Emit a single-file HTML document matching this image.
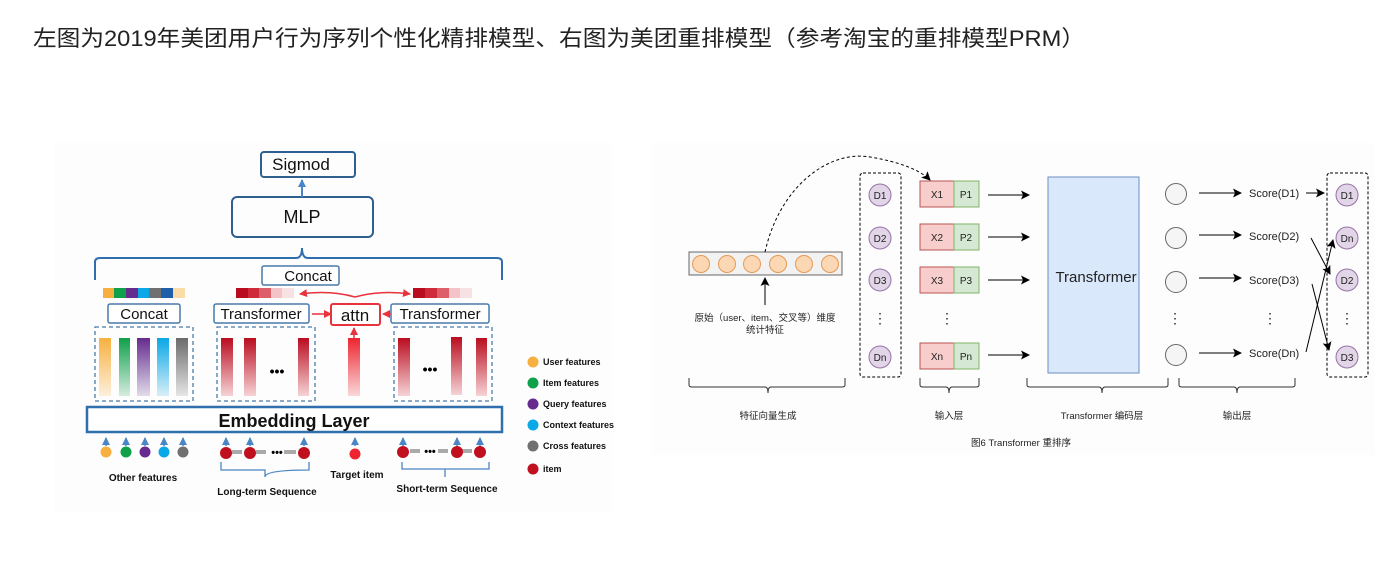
<!DOCTYPE html>
<html><head><meta charset="utf-8"><style>
body{margin:0;background:#fff;}
svg{display:block;font-family:"Liberation Sans","Noto Sans CJK SC",sans-serif;}
</style></head><body>
<svg width="1396" height="580" viewBox="0 0 1396 580" xmlns="http://www.w3.org/2000/svg">
<defs>
<marker id="ab" markerWidth="8" markerHeight="8" refX="7" refY="4" orient="auto" markerUnits="userSpaceOnUse"><path d="M0,0 L8,4 L0,8 z" fill="#4a86c5"/></marker>
<marker id="ar" markerWidth="8" markerHeight="8" refX="7" refY="4" orient="auto" markerUnits="userSpaceOnUse"><path d="M0,0 L8,4 L0,8 z" fill="#e8323c"/></marker>
<marker id="ak" markerWidth="9" markerHeight="9" refX="8" refY="4.5" orient="auto" markerUnits="userSpaceOnUse"><path d="M0,0 L9,4.5 L0,9 L2,4.5 z" fill="#000"/></marker>
<linearGradient id="gy" x1="0" y1="0" x2="0" y2="1"><stop offset="0" stop-color="#f7b040"/><stop offset="1" stop-color="#fdf0dc"/></linearGradient>
<linearGradient id="gg" x1="0" y1="0" x2="0" y2="1"><stop offset="0" stop-color="#0fa04a"/><stop offset="1" stop-color="#d5ece0"/></linearGradient>
<linearGradient id="gp" x1="0" y1="0" x2="0" y2="1"><stop offset="0" stop-color="#652b8e"/><stop offset="1" stop-color="#e2dcea"/></linearGradient>
<linearGradient id="gc" x1="0" y1="0" x2="0" y2="1"><stop offset="0" stop-color="#0aa8e6"/><stop offset="1" stop-color="#d8eef8"/></linearGradient>
<linearGradient id="gk" x1="0" y1="0" x2="0" y2="1"><stop offset="0" stop-color="#6a6a6a"/><stop offset="1" stop-color="#e6e6e6"/></linearGradient>
<linearGradient id="gr" x1="0" y1="0" x2="0" y2="1"><stop offset="0" stop-color="#b90d1f"/><stop offset="1" stop-color="#f6d3d6"/></linearGradient>
<linearGradient id="gt" x1="0" y1="0" x2="0" y2="1"><stop offset="0" stop-color="#ee2530"/><stop offset="1" stop-color="#f9d8da"/></linearGradient>
</defs>
<text x="33" y="46" font-size="22" fill="#222" textLength="1052" lengthAdjust="spacingAndGlyphs">左图为2019年美团用户行为序列个性化精排模型、右图为美团重排模型（参考淘宝的重排模型PRM）</text>

<!-- LEFT -->
<rect x="55" y="143" width="557" height="369" fill="#fdfdfd"/>
<g fill="none" stroke="#2f5f8f" stroke-width="2">
<rect x="261" y="152" width="94" height="25" rx="3"/>
<rect x="232" y="197" width="141" height="40" rx="5"/>
</g>
<line x1="302" y1="197" x2="302" y2="180" stroke="#4a86c5" stroke-width="2" marker-end="url(#ab)"/>
<path d="M95,280 L95,262 Q95,258 100,258 L296,258 Q302,258 302,248 Q302,258 308,258 L497,258 Q502,258 502,262 L502,280" fill="none" stroke="#2f6fad" stroke-width="2"/>
<g fill="#fff" stroke="#4a7aaa" stroke-width="1.5">
<rect x="262" y="266" width="77" height="19" rx="2"/>
<rect x="108" y="304" width="72" height="19" rx="2"/>
<rect x="214" y="304" width="95" height="19" rx="2"/>
<rect x="391" y="304" width="98" height="19" rx="2"/>
</g>
<rect x="331" y="304" width="49" height="21" rx="2" fill="#fff" stroke="#e8323c" stroke-width="2"/>
<g font-size="15" fill="#111" text-anchor="middle">
<text x="308" y="281">Concat</text>
<text x="144" y="319">Concat</text>
<text x="261" y="319">Transformer</text>
<text x="440" y="319">Transformer</text>
<text x="355" y="321" font-size="17">attn</text>
<text x="301" y="170" font-size="17">Sigmod</text>
<text x="302" y="223" font-size="18">MLP</text>
</g>
<!-- strips -->
<g>
<rect x="103" y="288" width="11" height="10" fill="#f7b040"/><rect x="114" y="288" width="12" height="10" fill="#0fa04a"/><rect x="126" y="288" width="12" height="10" fill="#652b8e"/><rect x="138" y="288" width="11" height="10" fill="#0aa8e6"/><rect x="149" y="288" width="12" height="10" fill="#707070"/><rect x="161" y="288" width="12" height="10" fill="#1f5ea8"/><rect x="173" y="288" width="12" height="10" fill="#fbdca8"/>
<rect x="236" y="288" width="12" height="10" fill="#b90d1f"/><rect x="248" y="288" width="11" height="10" fill="#cf2a3a"/><rect x="259" y="288" width="12" height="10" fill="#dc5f6a"/><rect x="271" y="288" width="11" height="10" fill="#f3c3c8"/><rect x="282" y="288" width="12" height="10" fill="#f8e1e3"/>
<rect x="413" y="288" width="12" height="10" fill="#b90d1f"/><rect x="425" y="288" width="12" height="10" fill="#cf2a3a"/><rect x="437" y="288" width="12" height="10" fill="#dc5f6a"/><rect x="449" y="288" width="11" height="10" fill="#f3c3c8"/><rect x="460" y="288" width="12" height="10" fill="#f8e1e3"/>
</g>
<path d="M355,297 Q330,290 300,294" fill="none" stroke="#e8323c" stroke-width="1.5" marker-end="url(#ar)"/>
<path d="M355,297 Q380,290 410,294" fill="none" stroke="#e8323c" stroke-width="1.5" marker-end="url(#ar)"/>
<line x1="331" y1="314" x2="312" y2="314" stroke="#e8323c" stroke-width="1.5" transform="rotate(180 321.5 314)" marker-end="url(#ar)"/>
<line x1="391" y1="314" x2="383" y2="314" stroke="#e8323c" stroke-width="1.5" marker-end="url(#ar)"/>
<line x1="354" y1="338" x2="354" y2="328" stroke="#e8323c" stroke-width="1.5" marker-end="url(#ar)"/>
<g fill="none" stroke="#4a7aaa" stroke-width="1.3" stroke-dasharray="4,3">
<rect x="95" y="327" width="98" height="74"/>
<rect x="217" y="327" width="98" height="74"/>
<rect x="394" y="327" width="98" height="74"/>
</g>
<rect x="99" y="338" width="12" height="58" fill="url(#gy)"/>
<rect x="119" y="338" width="11" height="58" fill="url(#gg)"/>
<rect x="137" y="338" width="13" height="58" fill="url(#gp)"/>
<rect x="157" y="338" width="12" height="58" fill="url(#gc)"/>
<rect x="176" y="338" width="12" height="58" fill="url(#gk)"/>
<rect x="221" y="338" width="12" height="58" fill="url(#gr)"/>
<rect x="244" y="338" width="12" height="58" fill="url(#gr)"/>
<rect x="298" y="338" width="11" height="58" fill="url(#gr)"/>
<rect x="348" y="338" width="12" height="58" fill="url(#gt)"/>
<rect x="398" y="338" width="12" height="58" fill="url(#gr)"/>
<rect x="451" y="337" width="11" height="58" fill="url(#gr)"/>
<rect x="476" y="338" width="11" height="58" fill="url(#gr)"/>
<text x="277" y="376" font-size="14" font-weight="bold" text-anchor="middle">•••</text>
<text x="430" y="374" font-size="14" font-weight="bold" text-anchor="middle">•••</text>
<rect x="87" y="407" width="415" height="25" fill="#fff" stroke="#2f6fad" stroke-width="2.5"/>
<text x="294" y="427" font-size="18" font-weight="bold" text-anchor="middle" fill="#111">Embedding Layer</text>
<g stroke="#4a86c5" stroke-width="1.5">
<line x1="106" y1="446" x2="106" y2="438" marker-end="url(#ab)"/><line x1="126" y1="446" x2="126" y2="438" marker-end="url(#ab)"/><line x1="145" y1="446" x2="145" y2="438" marker-end="url(#ab)"/><line x1="164" y1="446" x2="164" y2="438" marker-end="url(#ab)"/><line x1="183" y1="446" x2="183" y2="438" marker-end="url(#ab)"/>
<line x1="226" y1="446" x2="226" y2="438" marker-end="url(#ab)"/><line x1="250" y1="446" x2="250" y2="438" marker-end="url(#ab)"/><line x1="304" y1="446" x2="304" y2="438" marker-end="url(#ab)"/>
<line x1="355" y1="446" x2="355" y2="438" marker-end="url(#ab)"/>
<line x1="403" y1="446" x2="403" y2="438" marker-end="url(#ab)"/><line x1="457" y1="446" x2="457" y2="438" marker-end="url(#ab)"/><line x1="480" y1="446" x2="480" y2="438" marker-end="url(#ab)"/>
</g>
<circle cx="106" cy="452" r="5.5" fill="#f7b040"/><circle cx="126" cy="452" r="5.5" fill="#0fa04a"/><circle cx="145" cy="452" r="5.5" fill="#652b8e"/><circle cx="164" cy="452" r="5.5" fill="#0aa8e6"/><circle cx="183" cy="452" r="5.5" fill="#707070"/>
<g fill="#aaa"><rect x="232" y="450" width="10" height="4"/><rect x="256" y="450" width="10" height="4"/><rect x="284" y="450" width="12" height="4"/><rect x="410" y="449" width="10" height="4"/><rect x="438" y="449" width="10" height="4"/><rect x="462" y="449" width="10" height="4"/></g>
<circle cx="226" cy="453" r="6" fill="#c0101f"/><circle cx="250" cy="453" r="6" fill="#c0101f"/><circle cx="304" cy="453" r="6" fill="#c0101f"/><circle cx="355" cy="454" r="5.5" fill="#ee2530"/>
<circle cx="403" cy="452" r="6" fill="#c0101f"/><circle cx="457" cy="452" r="6" fill="#c0101f"/><circle cx="480" cy="452" r="6" fill="#c0101f"/>
<text x="277" y="456" font-size="11" font-weight="bold" text-anchor="middle">•••</text>
<text x="430" y="455" font-size="11" font-weight="bold" text-anchor="middle">•••</text>
<g fill="none" stroke="#4a86c5" stroke-width="1.3">
<path d="M221,462 V470 H265 Q265,470 265,477 Q265,470 309,470 V462"/>
<path d="M402,462 V469 H445 V477 V469 H489 V462"/>
</g>
<g font-size="10" font-weight="bold" fill="#111" text-anchor="middle">
<text x="143" y="481">Other features</text>
<text x="267" y="495">Long-term Sequence</text>
<text x="357" y="478">Target item</text>
<text x="447" y="492">Short-term Sequence</text>
</g>
<circle cx="533" cy="362" r="5.5" fill="#f7b040"/><circle cx="533" cy="383" r="5.5" fill="#0fa04a"/><circle cx="533" cy="404" r="5.5" fill="#652b8e"/><circle cx="533" cy="425" r="5.5" fill="#0aa8e6"/><circle cx="533" cy="446" r="5.5" fill="#707070"/><circle cx="533" cy="469" r="5.5" fill="#c0101f"/>
<g font-size="9" font-weight="bold" fill="#111">
<text x="543" y="365">User features</text><text x="543" y="386">Item features</text><text x="543" y="407">Query features</text><text x="543" y="428">Context features</text><text x="543" y="449">Cross features</text><text x="543" y="472">item</text>
</g>

<!-- RIGHT -->
<rect x="652" y="143" width="723" height="312" fill="#fdfdfd"/>
<rect x="689" y="252" width="153" height="23" fill="#f2f2f2" stroke="#666" stroke-width="1"/>
<g fill="#fbd7b4" stroke="#e59a55" stroke-width="1">
<circle cx="701" cy="264" r="8.5"/><circle cx="727" cy="264" r="8.5"/><circle cx="752" cy="264" r="8.5"/><circle cx="778" cy="264" r="8.5"/><circle cx="804" cy="264" r="8.5"/><circle cx="830" cy="264" r="8.5"/>
</g>
<line x1="765" y1="305" x2="765" y2="278" stroke="#000" stroke-width="1" marker-end="url(#ak)"/>
<path d="M765,252 C780,185 830,150 870,157 C900,162 920,170 930,180" fill="none" stroke="#000" stroke-width="1" stroke-dasharray="3,2.5" marker-end="url(#ak)"/>
<g font-size="9.5" fill="#222" text-anchor="middle">
<text x="765" y="321">原始（user、item、交叉等）维度</text>
<text x="765" y="333">统计特征</text>
</g>
<g fill="none" stroke="#000" stroke-dasharray="3,2">
<rect x="860" y="173" width="41" height="204" rx="3"/>
<rect x="1327" y="173" width="41" height="204" rx="3"/>
</g>
<g fill="#e1d5e7" stroke="#9673a6" stroke-width="1">
<circle cx="880" cy="195" r="11"/><circle cx="880" cy="238" r="11"/><circle cx="880" cy="280" r="11"/><circle cx="880" cy="357" r="11"/>
<circle cx="1347" cy="195" r="11"/><circle cx="1347" cy="238" r="11"/><circle cx="1347" cy="280" r="11"/><circle cx="1347" cy="357" r="11"/>
</g>
<g font-size="10" fill="#222" text-anchor="middle">
<text x="880" y="199">D1</text><text x="880" y="242">D2</text><text x="880" y="284">D3</text><text x="880" y="361">Dn</text>
<text x="1347" y="199">D1</text><text x="1347" y="242">Dn</text><text x="1347" y="284">D2</text><text x="1347" y="361">D3</text>
</g>
<g font-size="14" fill="#222" text-anchor="middle">
<text x="880" y="323">⋮</text><text x="947" y="323">⋮</text><text x="1175" y="323">⋮</text><text x="1270" y="323">⋮</text><text x="1347" y="323">⋮</text>
</g>
<g stroke-width="1">
<rect x="920" y="181" width="34" height="26" fill="#f8cecc" stroke="#b85450"/><rect x="954" y="181" width="25" height="26" fill="#d5e8d4" stroke="#82b366"/>
<rect x="920" y="224" width="34" height="26" fill="#f8cecc" stroke="#b85450"/><rect x="954" y="224" width="25" height="26" fill="#d5e8d4" stroke="#82b366"/>
<rect x="920" y="267" width="34" height="26" fill="#f8cecc" stroke="#b85450"/><rect x="954" y="267" width="25" height="26" fill="#d5e8d4" stroke="#82b366"/>
<rect x="920" y="343" width="34" height="26" fill="#f8cecc" stroke="#b85450"/><rect x="954" y="343" width="25" height="26" fill="#d5e8d4" stroke="#82b366"/>
</g>
<g font-size="10" fill="#222" text-anchor="middle">
<text x="937" y="198">X1</text><text x="966" y="198">P1</text>
<text x="937" y="241">X2</text><text x="966" y="241">P2</text>
<text x="937" y="284">X3</text><text x="966" y="284">P3</text>
<text x="937" y="360">Xn</text><text x="966" y="360">Pn</text>
</g>
<g stroke="#000" stroke-width="1">
<line x1="988" y1="195" x2="1029" y2="195" marker-end="url(#ak)"/>
<line x1="988" y1="237" x2="1029" y2="237" marker-end="url(#ak)"/>
<line x1="988" y1="280" x2="1029" y2="280" marker-end="url(#ak)"/>
<line x1="988" y1="355" x2="1029" y2="355" marker-end="url(#ak)"/>
<line x1="1199" y1="193" x2="1241" y2="193" marker-end="url(#ak)"/>
<line x1="1199" y1="235" x2="1241" y2="235" marker-end="url(#ak)"/>
<line x1="1199" y1="278" x2="1241" y2="278" marker-end="url(#ak)"/>
<line x1="1199" y1="353" x2="1241" y2="353" marker-end="url(#ak)"/>
<line x1="1306" y1="193" x2="1324" y2="193" marker-end="url(#ak)"/>
<line x1="1311" y1="238" x2="1330" y2="274" marker-end="url(#ak)"/>
<line x1="1312" y1="284" x2="1329" y2="350" marker-end="url(#ak)"/>
<line x1="1306" y1="352" x2="1333" y2="240" marker-end="url(#ak)"/>
</g>
<rect x="1048" y="177" width="91" height="196" fill="#dae8fc" stroke="#6c8ebf" stroke-width="1"/>
<text x="1096" y="282" font-size="15" fill="#222" text-anchor="middle">Transformer</text>
<g fill="#f5f5f5" stroke="#666" stroke-width="1">
<ellipse cx="1176" cy="194" rx="10.5" ry="10.5"/><ellipse cx="1176" cy="238" rx="10.5" ry="10.5"/><ellipse cx="1176" cy="282" rx="10.5" ry="10.5"/><ellipse cx="1176" cy="355" rx="10.5" ry="10.5"/>
</g>
<g font-size="11" fill="#222">
<text x="1249" y="197">Score(D1)</text><text x="1249" y="240">Score(D2)</text><text x="1249" y="284">Score(D3)</text><text x="1249" y="357">Score(Dn)</text>
</g>
<g fill="none" stroke="#333" stroke-width="1">
<path d="M689,378 V385 Q689,387 692,387 H765 Q768,387 768,393 Q768,387 771,387 H842 Q845,387 845,385 V378"/>
<path d="M920,378 V385 Q920,387 923,387 H946 Q949,387 949,393 Q949,387 952,387 H976 Q979,387 979,385 V378"/>
<path d="M1027,378 V385 Q1027,387 1030,387 H1099 Q1102,387 1102,393 Q1102,387 1105,387 H1165 Q1168,387 1168,385 V378"/>
<path d="M1179,378 V385 Q1179,387 1182,387 H1234 Q1237,387 1237,393 Q1237,387 1240,387 H1292 Q1295,387 1295,385 V378"/>
</g>
<g font-size="9.5" fill="#222" text-anchor="middle">
<text x="768" y="419">特征向量生成</text><text x="949" y="419">输入层</text><text x="1102" y="419">Transformer 编码层</text><text x="1237" y="419">输出层</text>
<text x="1021" y="446">图6 Transformer 重排序</text>
</g>
</svg>
</body></html>
